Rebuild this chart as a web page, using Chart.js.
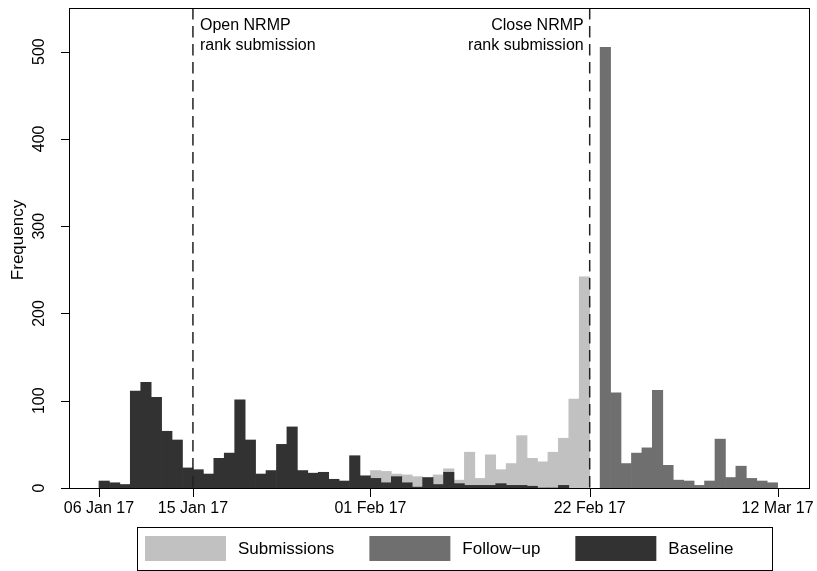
<!DOCTYPE html>
<html>
<head>
<meta charset="utf-8">
<script src="https://cdn.jsdelivr.net/npm/chart.js@4.4.1/dist/chart.umd.min.js"></script>
<style>
  body { margin: 0; background: #fff; }
</style>
</head>
<body>
<canvas id="hist" width="817" height="571"></canvas>
<script>
// one bar per day, day 0 = 06 Jan 2017
var baselineStart = 0;
var baseline = [8, 6, 4, 111, 121, 104, 65, 55, 23, 21, 16, 34, 40, 101, 55, 16, 20, 50, 70, 20,
                17, 18, 10, 8, 37, 14, 11, 6, 13, 6, 1, 12, 4, 18, 5, 3, 3, 3, 5, 3, 3, 2, 0, 0, 3];
var submissionsStart = 26;
var submissions = [20, 19, 16, 15, 13, 9, 15, 22, 9, 41, 11, 38, 21, 28, 60, 34, 30, 41, 57, 102, 242];
var followupStart = 48;
var followup = [505, 109, 28, 40, 46, 112, 26, 9, 8, 3, 8, 56, 12, 25, 11, 8, 6];

var tickDays = [0, 9, 26, 47, 65];
var tickLabels = ['06 Jan 17', '15 Jan 17', '01 Feb 17', '22 Feb 17', '12 Mar 17'];
var yTicks = [0, 100, 200, 300, 400, 500];

var markerDays = [9, 47];
var markerText = [['Open NRMP', 'rank submission'], ['Close NRMP', 'rank submission']];

var FONT = '"Liberation Sans", Arial, sans-serif';

function toPoints(start, values) {
    return values.map(function(v, i) {
        return { x: start + i + 0.5, y: v };
    });
}

// dashed markers, frame, tick marks, rotated y labels and the boxed legend
var extras = {
    id: 'extras',
    afterDatasetsDraw: function(chart) {
        var ctx = chart.ctx, a = chart.chartArea, xs = chart.scales.x, ys = chart.scales.y;
        ctx.save();
        ctx.strokeStyle = '#222';
        ctx.lineWidth = 1.5;
        ctx.setLineDash([11.5, 6.5]);
        ctx.fillStyle = '#000';
        ctx.font = '16px ' + FONT;
        markerDays.forEach(function(d, i) {
            var px = xs.getPixelForValue(d);
            ctx.beginPath();
            ctx.moveTo(px, a.top);
            ctx.lineTo(px, a.bottom);
            ctx.stroke();
            ctx.textBaseline = 'alphabetic';
            if (i === 0) {
                ctx.textAlign = 'left';
                ctx.fillText(markerText[i][0], px + 7, a.top + 22);
                ctx.fillText(markerText[i][1], px + 7, a.top + 42);
            } else {
                ctx.textAlign = 'right';
                ctx.fillText(markerText[i][0], px - 6, a.top + 22);
                ctx.fillText(markerText[i][1], px - 6, a.top + 42);
            }
        });
        ctx.setLineDash([]);
        ctx.strokeStyle = '#000';
        ctx.lineWidth = 1;
        ctx.strokeRect(a.left + 0.5, a.top + 0.5, a.right - a.left - 1, a.bottom - a.top);

        // tick marks
        ctx.beginPath();
        xs.ticks.forEach(function(t) {
            var px = Math.round(xs.getPixelForValue(t.value)) + 0.5;
            ctx.moveTo(px, a.bottom);
            ctx.lineTo(px, a.bottom + 9);
        });
        ys.ticks.forEach(function(t) {
            var py = Math.round(ys.getPixelForValue(t.value)) + 0.5;
            ctx.moveTo(a.left - 8, py);
            ctx.lineTo(a.left, py);
        });
        ctx.stroke();
        ctx.restore();
    },
    afterDraw: function(chart) {
        var ctx = chart.ctx, a = chart.chartArea, ys = chart.scales.y;
        ctx.save();
        ctx.fillStyle = '#000';
        ctx.textAlign = 'center';
        ctx.textBaseline = 'middle';

        // y tick labels, rotated like the original
        ctx.font = '16px ' + FONT;
        ys.ticks.forEach(function(t) {
            ctx.save();
            ctx.translate(ys.right - 29, ys.getPixelForValue(t.value));
            ctx.rotate(-Math.PI / 2);
            ctx.fillText(String(t.value), 0, 0);
            ctx.restore();
        });

        // axis title and legend share the larger size
        ctx.font = '17px ' + FONT;
        ctx.save();
        ctx.translate(ys.left + 9, (a.top + a.bottom) / 2 - 8);
        ctx.rotate(-Math.PI / 2);
        ctx.fillText('Frequency', 0, 0);
        ctx.restore();

        // legend in a box under the plot
        var sw = 81, sh = 25, gapText = 12, gapItem = 35, padL = 8;
        var left = a.left + 68, right = 772, top = 527, bottom = 570;
        ctx.strokeStyle = '#000';
        ctx.lineWidth = 1;
        ctx.strokeRect(left + 0.5, top + 0.5, right - left, bottom - top);
        var cx = left + padL;
        var sy = top + Math.round((bottom - top - sh) / 2);
        ctx.textAlign = 'left';
        chart.data.datasets.forEach(function(ds) {
            ctx.fillStyle = ds.backgroundColor;
            ctx.fillRect(cx, sy, sw, sh);
            ctx.fillStyle = '#000';
            ctx.fillText(ds.label, cx + sw + gapText, sy + sh / 2 + 1);
            cx += sw + gapText + ctx.measureText(ds.label).width + gapItem;
        });
        ctx.restore();
    }
};

var ctx = document.getElementById('hist').getContext('2d');
var chart = new Chart(ctx, {
    type: 'bar',
    data: {
        datasets: [
            {
                label: 'Submissions',
                data: toPoints(submissionsStart, submissions),
                backgroundColor: '#c1c1c1',
                order: 2
            },
            {
                label: 'Follow\u2212up',
                data: toPoints(followupStart, followup),
                backgroundColor: '#6f6f6f',
                order: 1
            },
            {
                label: 'Baseline',
                data: toPoints(baselineStart, baseline),
                backgroundColor: '#323232',
                order: 0
            }
        ]
    },
    options: {
        responsive: false,
        animation: false,
        layout: { padding: { left: 9, right: 7, top: 8, bottom: 56 } },
        datasets: {
            bar: {
                grouped: false,
                barPercentage: 1,
                categoryPercentage: 1,
                borderWidth: 0
            }
        },
        scales: {
            x: {
                type: 'linear',
                min: -2.87,
                max: 68.1,
                offset: false,
                border: { display: false },
                grid: { display: false, offset: false, drawTicks: true, tickLength: 9 },
                ticks: {
                    autoSkip: false,
                    maxRotation: 0,
                    padding: 2,
                    color: '#000',
                    font: { family: FONT, size: 16 },
                    callback: function(v) {
                        var i = tickDays.indexOf(v);
                        return i >= 0 ? tickLabels[i] : '';
                    }
                },
                afterBuildTicks: function(s) {
                    s.ticks = tickDays.map(function(d) { return { value: d }; });
                },
                afterFit: function(s) { s.height = 27; }
            },
            y: {
                min: 0,
                max: 550,
                border: { display: false },
                grid: { display: false },
                ticks: { display: false },
                afterBuildTicks: function(s) {
                    s.ticks = yTicks.map(function(v) { return { value: v }; });
                },
                afterFit: function(s) { s.width = 60; }
            }
        },
        plugins: {
            legend: { display: false },
            tooltip: { enabled: false }
        }
    },
    plugins: [extras]
});
</script>
</body>
</html>
